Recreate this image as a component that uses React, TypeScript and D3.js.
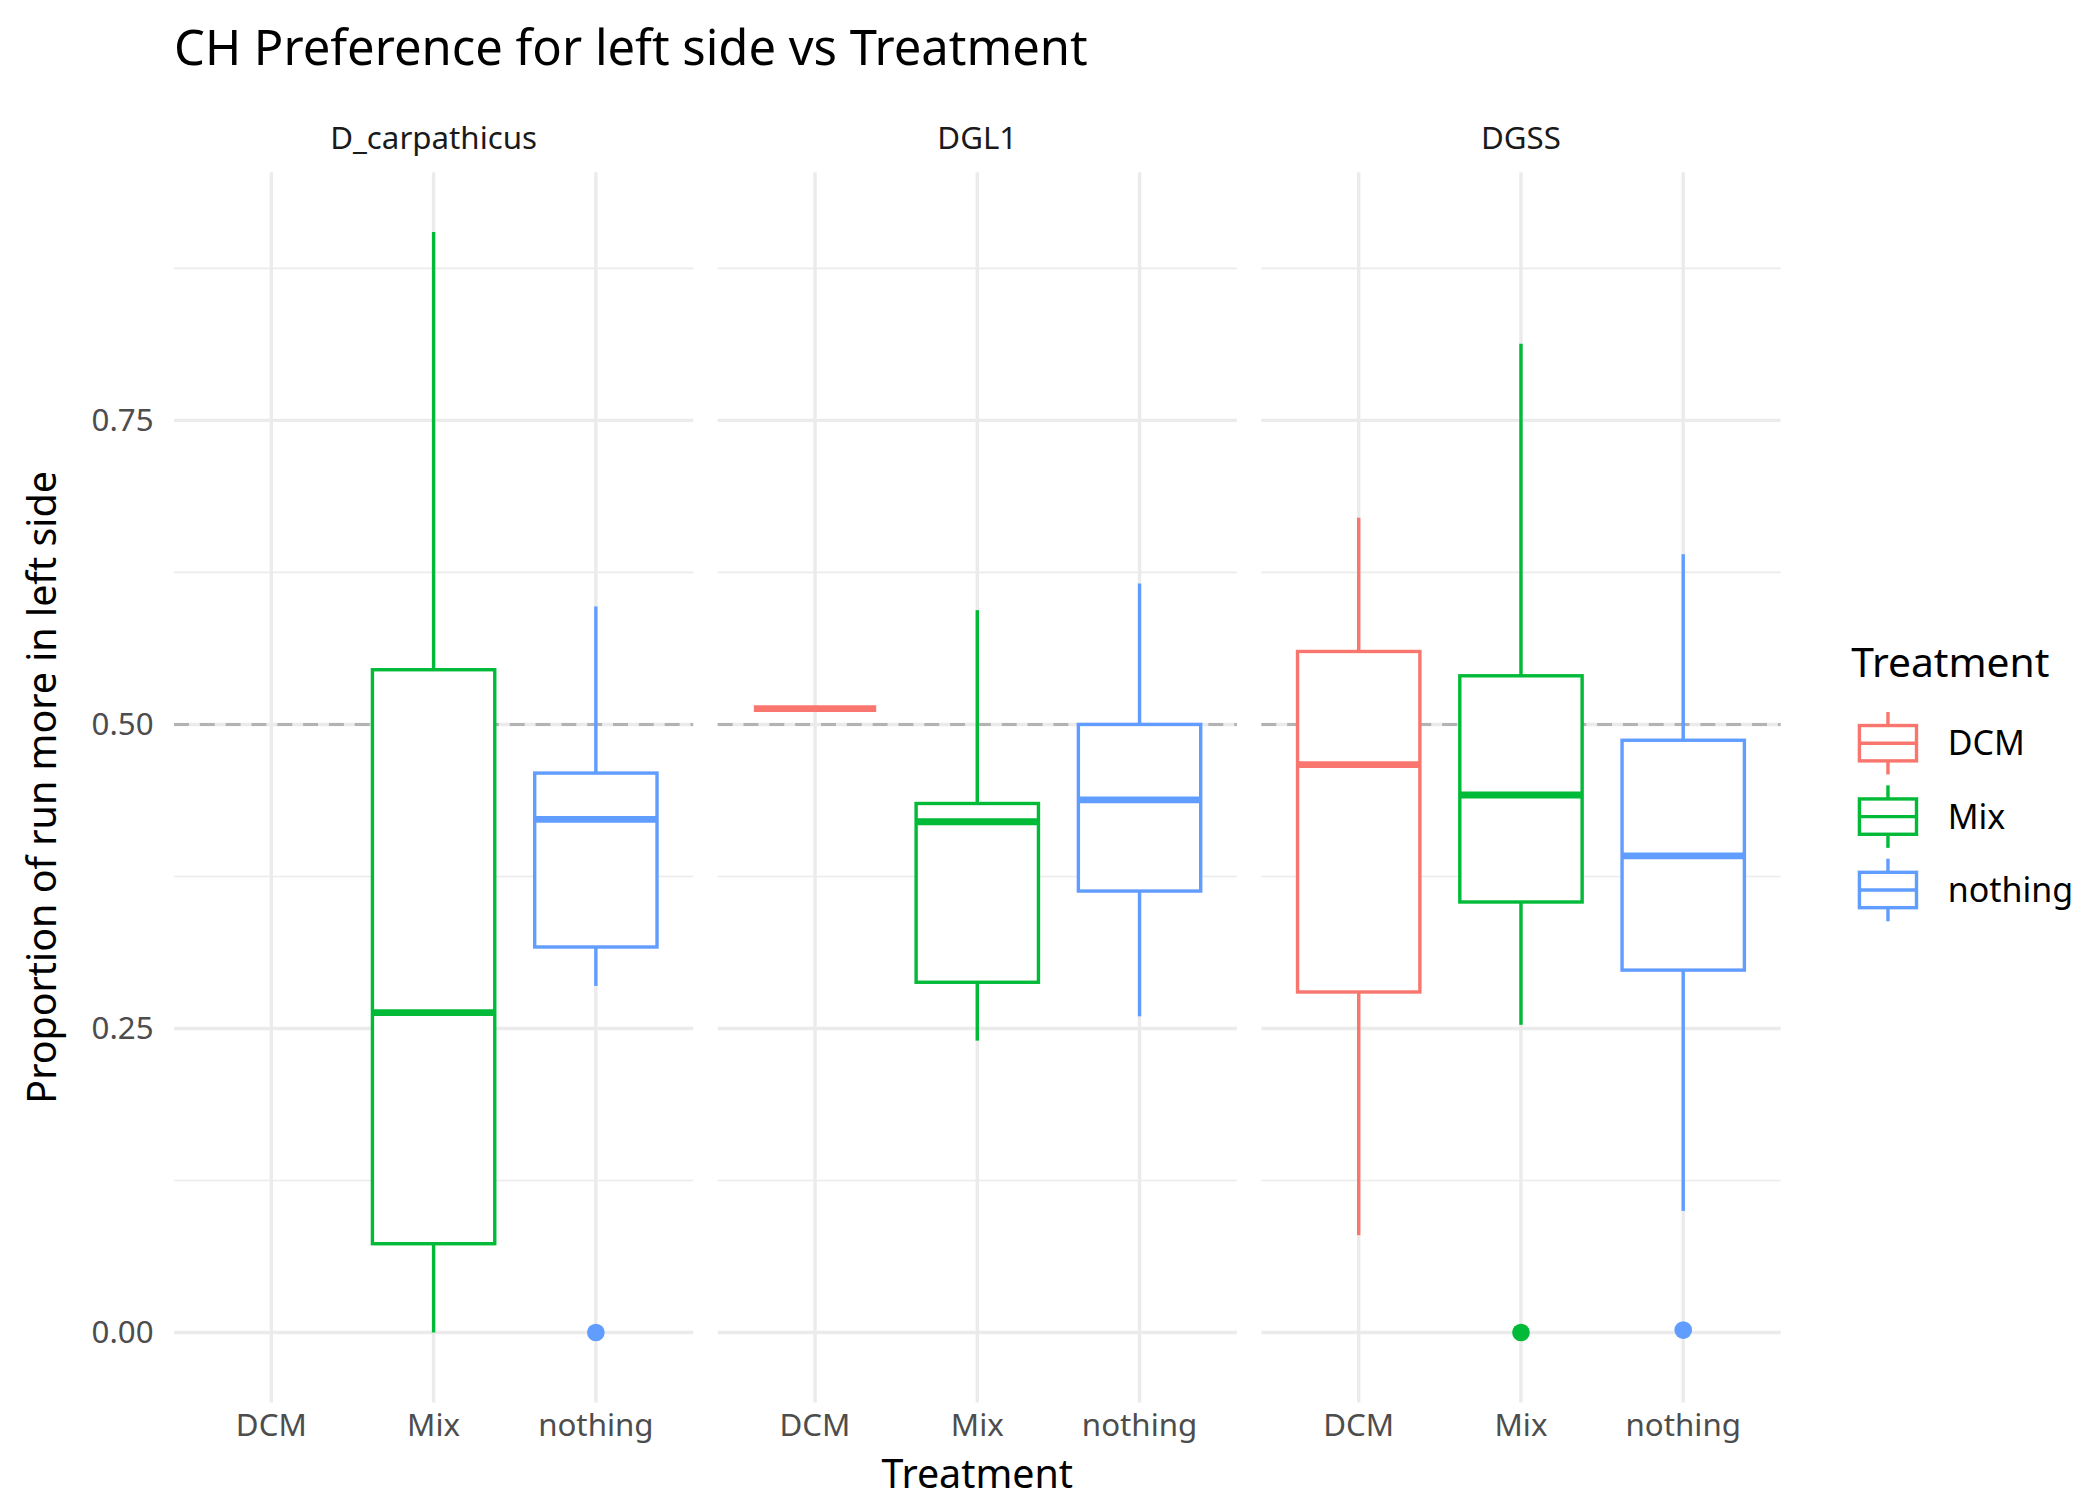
import React from 'react';
import * as d3 from 'd3';

const panels = ['D_carpathicus', 'DGL1', 'DGSS'];
const treatments = ['DCM', 'Mix', 'nothing'];
const colors = ['#F8766D', '#00BA38', '#619CFF'];
const yTicks = [0, 0.25, 0.5, 0.75];
const yMinor = [0.125, 0.375, 0.625, 0.875];

// [panel, treatment, low, q1, median, q3, high]
const boxes: [string, string, number, number, number, number, number][] = [
  ['D_carpathicus', 'Mix', 0.0, 0.073, 0.263, 0.545, 0.905],
  ['D_carpathicus', 'nothing', 0.285, 0.317, 0.422, 0.46, 0.597],
  ['DGL1', 'DCM', 0.513, 0.513, 0.513, 0.513, 0.513],
  ['DGL1', 'Mix', 0.24, 0.288, 0.42, 0.435, 0.594],
  ['DGL1', 'nothing', 0.26, 0.363, 0.438, 0.5, 0.616],
  ['DGSS', 'DCM', 0.08, 0.28, 0.467, 0.56, 0.67],
  ['DGSS', 'Mix', 0.253, 0.354, 0.442, 0.54, 0.813],
  ['DGSS', 'nothing', 0.1, 0.298, 0.392, 0.487, 0.64],
];
// [panel, treatment, value]
const outliers: [string, string, number][] = [
  ['D_carpathicus', 'nothing', 0],
  ['DGSS', 'Mix', 0],
  ['DGSS', 'nothing', 0.002],
];

const W = 1545, H = 1100;
const panelX = [128, 528, 928];
const panelW = 382;
const top = 125, bottom = 1030;
const font = 'Noto Sans, sans-serif';

export default function App() {
  const y = d3.scaleLinear().domain([-0.0575, 0.954]).range([bottom, top]);
  const x = d3.scalePoint().domain(treatments).range([0, panelW]).padding(0.6);
  const color = d3.scaleOrdinal<string, string>().domain(treatments).range(colors);
  const bw = 90;
  const pIdx = (p: string) => panelX[panels.indexOf(p)];

  return (
    <svg width={2100} height={1500} viewBox={`0 0 ${W} ${H}`}
      style={{ display: 'block', position: 'absolute', left: 0, top: 0 }} fontFamily={font}>
      <rect width={W} height={H} fill="#fff" />
      <text x={128} y={46} fontSize={36} fill="#000">CH Preference for left side vs Treatment</text>
      {panels.map((p, i) => (
        <g key={p} transform={`translate(${panelX[i]},0)`}>
          <text x={panelW / 2} y={108} textAnchor="middle" fontSize={23} fill="#1a1a1a">{p}</text>
          {yMinor.map(t => (
            <line key={t} x1={0} x2={panelW} y1={y(t)} y2={y(t)} stroke="#ebebeb" strokeWidth={1.2} />
          ))}
          {yTicks.map(t => (
            <line key={t} x1={0} x2={panelW} y1={y(t)} y2={y(t)} stroke="#ebebeb" strokeWidth={2.5} />
          ))}
          {treatments.map(t => (
            <g key={t}>
              <line x1={x(t)} x2={x(t)} y1={top} y2={bottom} stroke="#ebebeb" strokeWidth={2.5} />
              <text x={x(t)} y={1055} textAnchor="middle" fontSize={23} fill="#4d4d4d">{t}</text>
            </g>
          ))}
          <line x1={0} x2={panelW} y1={y(0.5)} y2={y(0.5)} stroke="#b3b3b3" strokeWidth={2.2} strokeDasharray="11,8" />
        </g>
      ))}
      {boxes.map(([p, t, lo, q1, md, q3, hi], i) => {
        const cx = pIdx(p) + (x(t) as number);
        const c = color(t);
        return (
          <g key={i} stroke={c} fill="none">
            <line x1={cx} x2={cx} y1={y(hi)} y2={y(q3)} strokeWidth={2.5} />
            <line x1={cx} x2={cx} y1={y(q1)} y2={y(lo)} strokeWidth={2.5} />
            <rect x={cx - bw / 2} y={y(q3)} width={bw} height={y(q1) - y(q3)} fill="#fff" strokeWidth={2.5} />
            <line x1={cx - bw / 2} x2={cx + bw / 2} y1={y(md)} y2={y(md)} strokeWidth={5} />
          </g>
        );
      })}
      {outliers.map(([p, t, v], i) => (
        <circle key={i} cx={pIdx(p) + (x(t) as number)} cy={y(v)} r={6.5} fill={color(t)} />
      ))}
      {yTicks.map(t => (
        <text key={t} x={113} y={y(t) + 8} textAnchor="end" fontSize={23} fill="#4d4d4d">{t.toFixed(2)}</text>
      ))}
      <text x={719} y={1093} textAnchor="middle" fontSize={29} fill="#000">Treatment</text>
      <text transform={`translate(41,${(top + bottom) / 2 + 0}) rotate(-90)`} textAnchor="middle" fontSize={29} fill="#000">
        Proportion of run more in left side
      </text>
      <text x={1362} y={496} fontSize={30} fill="#000">Treatment</text>
      {treatments.map((t, i) => {
        const cy = 545 + i * 54;
        const c = color(t);
        return (
          <g key={t}>
            <line x1={1389} x2={1389} y1={cy - 23} y2={cy + 23} stroke={c} strokeWidth={2.5} />
            <rect x={1368} y={cy - 13} width={42} height={26} fill="#fff" stroke={c} strokeWidth={2.5} />
            <line x1={1368} x2={1410} y1={cy} y2={cy} stroke={c} strokeWidth={2.5} />
            <text x={1433} y={cy + 9} fontSize={25} fill="#000">{t}</text>
          </g>
        );
      })}
    </svg>
  );
}
